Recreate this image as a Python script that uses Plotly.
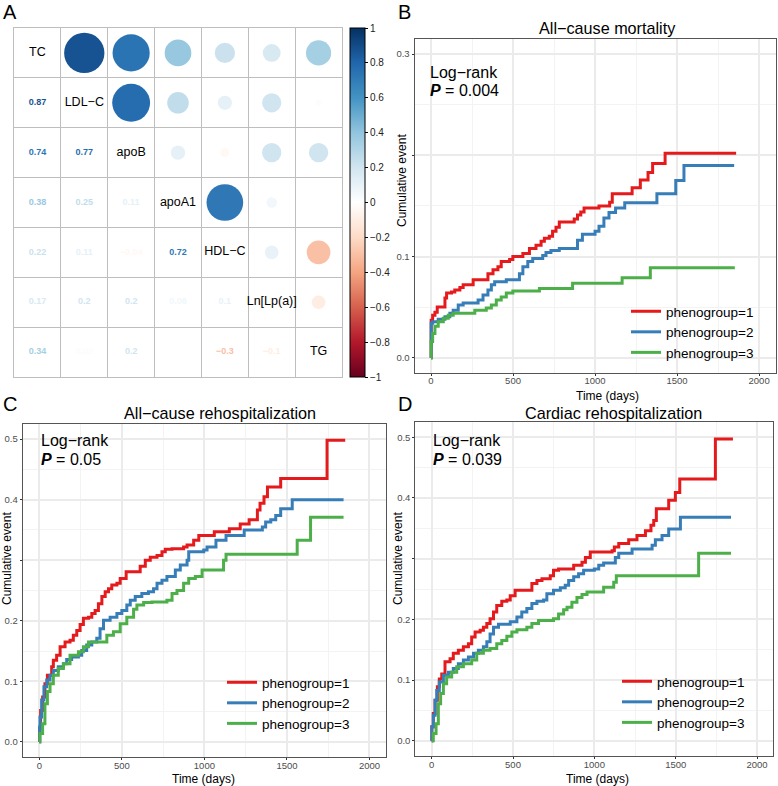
import plotly.graph_objects as go
from plotly.colors import sample_colorscale

W, H = 778, 786

# ---------------- panel A: correlation matrix ----------------
lipids = ["TC", "LDL−C", "apoB", "apoA1", "HDL−C", "Ln[Lp(a)]", "TG"]
r_tc = [1, 0.87, 0.74, 0.38, 0.22, 0.17, 0.34]
r_ldl = [0.87, 1, 0.77, 0.25, 0.11, 0.2, 0.02]
r_apob = [0.74, 0.77, 1, 0.11, -0.04, 0.2, 0.2]
r_apoa1 = [0.38, 0.25, 0.11, 1, 0.72, 0.06, 0.0]
r_hdl = [0.22, 0.11, -0.04, 0.72, 1, 0.1, -0.3]
r_lpa = [0.17, 0.2, 0.2, 0.06, 0.1, 1, -0.1]
r_tg = [0.34, 0.02, 0.2, 0.0, -0.3, -0.1, 1]
corr = [r_tc, r_ldl, r_apob, r_apoa1, r_hdl, r_lpa, r_tg]

cbar_ticks = [1, 0.8, 0.6, 0.4, 0.2, 0, -0.2, -0.4, -0.6, -0.8, -1]

# ---------------- panels B-D: cumulative event curves ----------------
groups = ["phenogroup=1", "phenogroup=2", "phenogroup=3"]

# B  all-cause mortality
mort_t1 = [0, 1, 10, 24, 38, 85, 95, 125, 145, 176, 196, 257, 347, 378, 408, 428, 479, 499, 560, 600,
           640, 671, 691, 721, 741, 762, 782, 873, 893, 913, 933, 1024, 1089, 1105, 1226, 1276, 1323,
           1351, 1427, 1860]
mort_v1 = [0, 0.037, 0.042, 0.045, 0.050, 0.059, 0.064, 0.065, 0.067, 0.0695, 0.072, 0.077, 0.083,
           0.087, 0.090, 0.095, 0.097, 0.100, 0.103, 0.108, 0.111, 0.115, 0.118, 0.120, 0.125, 0.129,
           0.134, 0.137, 0.141, 0.144, 0.148, 0.150, 0.1535, 0.162, 0.168, 0.1755, 0.183, 0.192,
           0.202, 0.202]
mort_t2 = [0, 1, 10, 44, 85, 115, 135, 166, 196, 287, 317, 347, 368, 388, 459, 539, 560, 590, 620,
           681, 701, 731, 782, 893, 923, 1000, 1024, 1054, 1085, 1125, 1181, 1377, 1492, 1542, 1848]
mort_v2 = [0, 0.034, 0.0355, 0.038, 0.0405, 0.044, 0.047, 0.052, 0.054, 0.057, 0.062, 0.067, 0.072,
           0.075, 0.077, 0.083, 0.090, 0.095, 0.098, 0.101, 0.104, 0.106, 0.108, 0.116, 0.122, 0.125,
           0.130, 0.138, 0.1435, 0.148, 0.153, 0.162, 0.175, 0.190, 0.190]
mort_t3 = [0, 1, 10, 24, 44, 75, 105, 135, 267, 337, 368, 398, 428, 459, 499, 661, 863, 1165, 1337, 1852]
mort_v3 = [0, 0.016, 0.024, 0.031, 0.0355, 0.039, 0.042, 0.044, 0.047, 0.049, 0.052, 0.057, 0.060,
           0.064, 0.066, 0.0685, 0.0735, 0.079, 0.089, 0.089]

# C  all-cause rehospitalization
allre_t1 = [0, 2, 8, 20, 34, 49, 75, 85, 105, 126, 156, 186, 206, 227, 247, 267, 298, 318, 338, 358,
            379, 399, 419, 439, 470, 490, 526, 611, 642, 672, 713, 743, 763, 804, 874, 895, 935, 966,
            1060, 1151, 1217, 1271, 1321, 1337, 1361, 1382, 1462, 1743, 1853]
allre_v1 = [0, 0.022, 0.052, 0.074, 0.096, 0.11, 0.124, 0.135, 0.143, 0.157, 0.165, 0.168, 0.176,
            0.184, 0.194, 0.204, 0.206, 0.212, 0.217, 0.228, 0.24, 0.248, 0.253, 0.259, 0.262, 0.27,
            0.281, 0.29, 0.30, 0.305, 0.308, 0.314, 0.318, 0.319, 0.322, 0.325, 0.333, 0.341, 0.347,
            0.352, 0.36, 0.367, 0.383, 0.394, 0.405, 0.421, 0.435, 0.498, 0.498]
allre_t2 = [0, 2, 4, 14, 28, 45, 65, 85, 115, 146, 166, 196, 237, 257, 287, 318, 348, 368, 389, 429,
            470, 500, 530, 551, 581, 621, 661, 692, 713, 743, 773, 824, 854, 895, 905, 996, 1016, 1070,
            1131, 1241, 1351, 1371, 1402, 1432, 1462, 1532, 1843]
allre_v2 = [0, 0.025, 0.041, 0.069, 0.091, 0.102, 0.11, 0.118, 0.124, 0.129, 0.136, 0.14, 0.143,
            0.151, 0.16, 0.165, 0.171, 0.187, 0.201, 0.206, 0.212, 0.217, 0.226, 0.234, 0.24, 0.245,
            0.248, 0.253, 0.262, 0.267, 0.273, 0.284, 0.292, 0.30, 0.314, 0.317, 0.322, 0.333, 0.341,
            0.35, 0.355, 0.363, 0.367, 0.374, 0.385, 0.40, 0.40]
allre_t3 = [0, 4, 20, 34, 49, 65, 85, 115, 146, 186, 237, 267, 298, 409, 449, 490, 530, 571, 591, 632,
            682, 773, 804, 834, 874, 905, 945, 986, 1116, 1131, 1562, 1643, 1843]
allre_v3 = [0, 0.014, 0.03, 0.063, 0.083, 0.096, 0.11, 0.121, 0.129, 0.143, 0.149, 0.157, 0.165,
            0.176, 0.182, 0.195, 0.206, 0.219, 0.226, 0.23, 0.231, 0.234, 0.245, 0.25, 0.262, 0.27,
            0.273, 0.284, 0.30, 0.31, 0.333, 0.371, 0.371]

# D  cardiac rehospitalization
card_t1 = [0, 1, 10, 21, 35, 47, 62, 82, 113, 133, 164, 195, 226, 246, 267, 298, 318, 339, 359, 380,
           400, 431, 462, 483, 513, 616, 647, 678, 729, 749, 780, 873, 924, 945, 975, 1109, 1123, 1150,
           1211, 1262, 1314, 1348, 1365, 1381, 1457, 1498, 1525, 1744, 1852]
card_v1 = [0, 0.023, 0.045, 0.067, 0.089, 0.102, 0.11, 0.13, 0.135, 0.144, 0.149, 0.155, 0.16, 0.171,
           0.179, 0.182, 0.187, 0.193, 0.201, 0.212, 0.223, 0.23, 0.232, 0.239, 0.248, 0.259, 0.264,
           0.267, 0.272, 0.281, 0.283, 0.289, 0.294, 0.302, 0.311, 0.313, 0.319, 0.325, 0.331, 0.338,
           0.346, 0.355, 0.363, 0.382, 0.396, 0.409, 0.431, 0.497, 0.497]
card_t2 = [0, 1, 10, 21, 31, 47, 72, 103, 133, 164, 195, 226, 257, 287, 318, 339, 359, 380, 411, 483,
           524, 554, 585, 616, 647, 688, 708, 749, 791, 821, 842, 873, 903, 934, 1000, 1027, 1057,
           1129, 1150, 1232, 1355, 1375, 1416, 1457, 1529, 1840]
card_v2 = [0, 0.023, 0.042, 0.067, 0.083, 0.097, 0.108, 0.113, 0.119, 0.127, 0.133, 0.138, 0.144,
           0.149, 0.155, 0.163, 0.176, 0.187, 0.192, 0.196, 0.204, 0.212, 0.218, 0.226, 0.23, 0.232,
           0.242, 0.248, 0.252, 0.256, 0.264, 0.27, 0.275, 0.281, 0.283, 0.289, 0.293, 0.302, 0.309,
           0.316, 0.322, 0.331, 0.338, 0.349, 0.368, 0.368]
card_t3 = [0, 10, 27, 41, 55, 72, 92, 123, 154, 195, 246, 277, 318, 359, 400, 431, 462, 493, 524, 585,
           616, 657, 749, 780, 811, 832, 862, 893, 924, 955, 1057, 1119, 1135, 1641, 1840]
card_v3 = [0, 0.012, 0.028, 0.061, 0.078, 0.094, 0.105, 0.113, 0.122, 0.127, 0.133, 0.144, 0.149,
           0.152, 0.16, 0.165, 0.172, 0.179, 0.183, 0.187, 0.193, 0.198, 0.201, 0.209, 0.216, 0.22,
           0.228, 0.236, 0.241, 0.245, 0.253, 0.261, 0.272, 0.309, 0.309]

panel_titles = ["All−cause mortality", "All−cause rehospitalization", "Cardiac rehospitalization"]
p_values = ["0.004", "0.05", "0.039"]

# ---------------- styling ----------------
FONT = "Liberation Sans, Arial, sans-serif"
rdbu = ["#67001F", "#B2182B", "#D6604D", "#F4A582", "#FDDBC7", "#FFFFFF",
        "#D1E5F0", "#92C5DE", "#4393C3", "#2166AC", "#053061"]
cscale = [[i / 10, c] for i, c in enumerate(rdbu)]
group_colors = ["#E41A1C", "#377EB8", "#4DAF4A"]


def fx(px):
    return px / W


def fy(py):
    return 1 - py / H


def fmt(v):
    return f"{round(v, 2):g}".replace("-", "−")


fig = go.Figure()

# circles (upper triangle)
cx, cy, cr = [], [], []
tx, ty, tt, tv = [], [], [], []
for i in range(7):
    for j in range(7):
        if j > i:
            cx.append(j + 0.5); cy.append(i + 0.5); cr.append(corr[i][j])
        elif j < i:
            tx.append(j + 0.5); ty.append(i + 0.5); tt.append(fmt(corr[i][j])); tv.append(corr[i][j])

cell_px = 48
fig.add_trace(go.Scatter(
    x=cx, y=cy, mode="markers", showlegend=False, hoverinfo="skip",
    marker=dict(size=[0.9 * abs(r) ** 0.5 * cell_px for r in cr], color=cr, colorscale=cscale,
                cmin=-1, cmax=1, line=dict(width=0), opacity=1,
                colorbar=dict(x=fx(350), xanchor="left", y=fy(202.5), yanchor="middle",
                              len=349, lenmode="pixels", thickness=15, xpad=0, ypad=0,
                              outlinewidth=1, outlinecolor="black",
                              tickvals=cbar_ticks, ticktext=[fmt(t) for t in cbar_ticks],
                              ticks="outside", ticklen=3, tickcolor="black",
                              tickfont=dict(size=10, color="#222", family=FONT)),
                showscale=True),
    xaxis="x", yaxis="y"))

# coefficients (lower triangle)
fig.add_trace(go.Scatter(
    x=tx, y=ty, mode="text", text=["<b>" + s + "</b>" for s in tt], showlegend=False, hoverinfo="skip",
    textfont=dict(size=9, family=FONT, color=sample_colorscale(cscale, [(v + 1) / 2 for v in tv])),
    xaxis="x", yaxis="y"))

# diagonal labels
fig.add_trace(go.Scatter(
    x=[k + 0.5 for k in range(7)], y=[k + 0.5 for k in range(7)], mode="text", text=lipids,
    showlegend=False, hoverinfo="skip", textfont=dict(size=12.5, family=FONT, color="black"),
    xaxis="x", yaxis="y"))

curves = [
    [(mort_t1, mort_v1), (mort_t2, mort_v2), (mort_t3, mort_v3)],
    [(allre_t1, allre_v1), (allre_t2, allre_v2), (allre_t3, allre_v3)],
    [(card_t1, card_v1), (card_t2, card_v2), (card_t3, card_v3)],
]
legend_ids = ["legend", "legend2", "legend3"]
for k, panel in enumerate(curves):
    for g, (t, v) in enumerate(panel):
        fig.add_trace(go.Scatter(
            x=t, y=v, mode="lines", name=groups[g], legend=legend_ids[k],
            line=dict(color=group_colors[g], width=3, shape="hv"),
            xaxis=f"x{k + 2}", yaxis=f"y{k + 2}"))

# ---------------- layout ----------------
# panel boxes in pixels: (left, right, top, bottom)
boxes = [(414.6, 775.5, 38.9, 372.9), (22.8, 386.0, 424.0, 757.0), (415.4, 773.3, 422.0, 756.0)]
y_ranges = [[-0.015, 0.315], [-0.025, 0.525], [-0.025, 0.525]]
y_ticks = [([0, 0.1, 0.2, 0.3], ["0.0", "0.1", "", "0.3"]),
           ([0, 0.1, 0.2, 0.3, 0.4, 0.5], ["0.0", "0.1", "0.2", "", "0.4", "0.5"]),
           ([0, 0.1, 0.2, 0.3, 0.4, 0.5], ["0.0", "0.1", "0.2", "", "0.4", "0.5"])]

layout = dict(
    width=W, height=H, margin=dict(l=0, r=0, t=0, b=0),
    paper_bgcolor="white", plot_bgcolor="white",
    font=dict(family=FONT, color="black"),
    xaxis=dict(domain=[fx(14), fx(342)], range=[0, 7], tickvals=list(range(8)), showticklabels=False,
               showgrid=True, gridcolor="#BEBEBE", gridwidth=1, zeroline=False,
               showline=True, mirror=True, linecolor="#BEBEBE", linewidth=1, fixedrange=True),
    yaxis=dict(domain=[fy(377), fy(28)], range=[7, 0], tickvals=list(range(8)), showticklabels=False,
               showgrid=True, gridcolor="#BEBEBE", gridwidth=1, zeroline=False,
               showline=True, mirror=True, linecolor="#BEBEBE", linewidth=1, fixedrange=True),
)

for k, (l, r, t, b) in enumerate(boxes):
    n = k + 2
    layout[f"xaxis{n}"] = dict(
        domain=[fx(l), fx(r)], range=[-100, 2100], anchor=f"y{n}",
        tickvals=[0, 500, 1000, 1500, 2000], ticks="outside", ticklen=2, tickcolor="#333",
        tickfont=dict(size=9.5, color="#4D4D4D"), ticklabelstandoff=-3,
        showgrid=True, gridcolor="#EBEBEB", gridwidth=1.5,
        minor=dict(dtick=250, tick0=0, showgrid=True, gridcolor="#F3F3F3", gridwidth=1),
        zeroline=False, showline=True, mirror=True, linecolor="#555", linewidth=1.2)
    layout[f"yaxis{n}"] = dict(
        domain=[fy(b), fy(t)], range=y_ranges[k], anchor=f"x{n}",
        tickvals=y_ticks[k][0], ticktext=y_ticks[k][1], ticks="outside", ticklen=2, tickcolor="#333",
        tickfont=dict(size=9.5, color="#4D4D4D"),
        showgrid=True, gridcolor="#EBEBEB", gridwidth=1.5,
        minor=dict(dtick=0.05, tick0=0, showgrid=True, gridcolor="#F3F3F3", gridwidth=1),
        zeroline=False, showline=True, mirror=True, linecolor="#555", linewidth=1.2)

legend_pos = [(626, 296), (222, 667), (617, 666)]
for k, (lx, ly) in enumerate(legend_pos):
    layout[legend_ids[k]] = dict(
        x=fx(lx), y=fy(ly), xanchor="left", yanchor="top", bgcolor="rgba(0,0,0,0)",
        font=dict(size=13.5, family=FONT, color="black"), itemwidth=30, tracegroupgap=0,
        traceorder="normal")

fig.update_layout(**layout)

ann = []


def text_at(x, y, s, size, xanchor="center", yanchor="middle", **kw):
    ann.append(dict(x=fx(x), y=fy(y), xref="paper", yref="paper", text=s, showarrow=False,
                    xanchor=xanchor, yanchor=yanchor,
                    font=dict(size=size, family=FONT, color="black"), **kw))


for s, (x, y) in zip("ABCD", [(10, 12), (404, 12), (10, 404), (405, 404)]):
    text_at(x, y, s, 20)

title_pos = [(607, 28), (220, 413), (613, 413)]
logrank_pos = [(428, 72, 91), (39, 440, 459), (431, 440, 459)]
ytitle_pos = [(402, 181), (7, 559), (398, 558)]
xtitle_pos = [(607, 396), (203, 779), (597, 779)]
for k in range(3):
    text_at(*title_pos[k], panel_titles[k], 16.2)
    x, y1, y2 = logrank_pos[k]
    text_at(x, y1, "Log−rank", 16, xanchor="left")
    text_at(x, y2, "<b><i>P</i></b> = " + p_values[k], 16, xanchor="left")
    text_at(*ytitle_pos[k], "Cumulative event", 12, textangle=-90)
    text_at(*xtitle_pos[k], "Time (days)", 12)

fig.update_layout(annotations=ann)
fig.write_html("out.html", config={"displayModeBar": False},
               post_script="document.body.style.margin='0px';")
